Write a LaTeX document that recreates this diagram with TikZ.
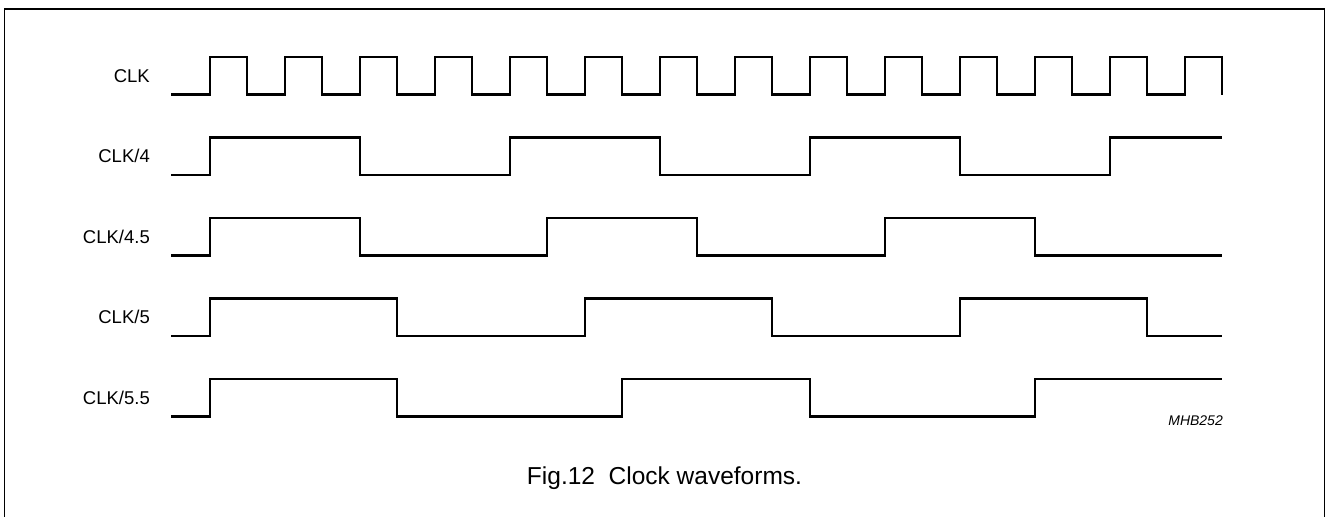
\documentclass[tikz,border=0pt]{standalone}
\usepackage{fontspec}
\setmainfont{Liberation Sans}
\begin{document}
\begin{tikzpicture}[x=1pt,y=-1pt,
  wave/.style={line width=2.2pt, line join=miter, line cap=butt},
  frameline/.style={line width=1.5pt},
  lbl/.style={font=\fontsize{18.5}{20}\selectfont, anchor=base east, inner sep=0pt},
  idlbl/.style={font=\fontsize{14}{16}\selectfont\itshape, anchor=base east, inner sep=0pt},
  captiontext/.style={font=\fontsize{24.5}{28}\selectfont, anchor=base, inner sep=0pt}]
\useasboundingbox (0,0) rectangle (1326,517);
\draw[frameline] (4.5,540) -- (4.5,9) -- (1324.5,9) -- (1324.5,540);
% labels
\node[lbl] (lclk)  at (150,82)  {CLK};
\node[lbl] (lclk4) at (150,162.5) {CLK/4};
\node[lbl] (lclk45) at (150,243) {CLK/4.5};
\node[lbl] (lclk5) at (150,323.5) {CLK/5};
\node[lbl] (lclk55) at (150,404) {CLK/5.5};
\node[idlbl] (mhb) at (1223,425.7) {MHB252};
\node[captiontext] (caption) at (664.5,484) {Fig.12\ \ Clock waveforms.};
% waveforms
\begin{scope}[xshift=209.7pt, x=75pt]
\draw[wave] (-0.516,94.5) \foreach \k in {0,...,13} { -- (\k,94.5) -- (\k,57) -- ({\k+0.5},57) -- ({\k+0.5},94.5) };
\draw[wave] (-0.516,175) -- (0,175) |- (2,137.5) |- (4,175) |- (6,137.5) |- (8,175) |- (10,137.5) |- (12,175) |- (13.5,137.5);
\draw[wave] (-0.516,255.5) -- (0,255.5) |- (2,218) |- (4.5,255.5) |- (6.5,218) |- (9,255.5) |- (11,218) |- (13.5,255.5);
\draw[wave] (-0.516,336) -- (0,336) |- (2.5,298.5) |- (5,336) |- (7.5,298.5) |- (10,336) |- (12.5,298.5) |- (13.5,336);
\draw[wave] (-0.516,416.5) -- (0,416.5) |- (2.5,379) |- (5.5,416.5) |- (8,379) |- (11,416.5) |- (13.5,379);
\end{scope}
\end{tikzpicture}
\end{document}
